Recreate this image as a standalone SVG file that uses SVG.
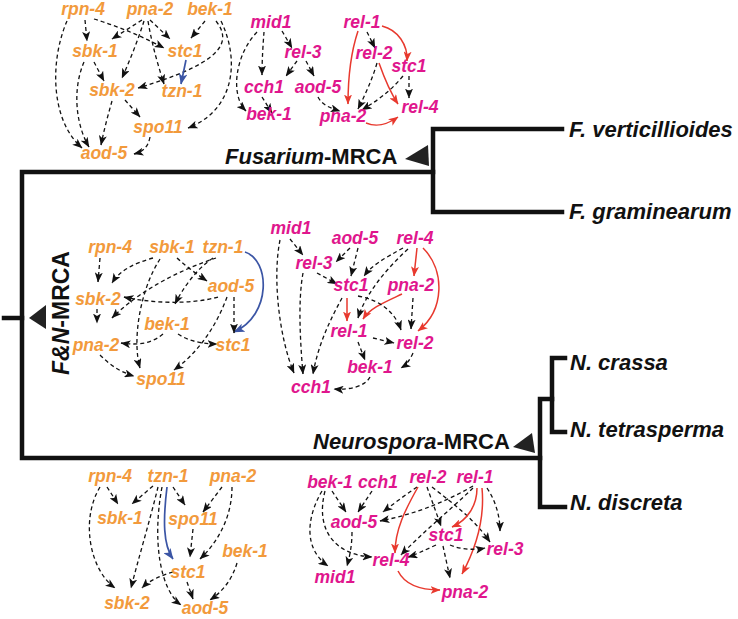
<svg xmlns="http://www.w3.org/2000/svg" width="738" height="619" viewBox="0 0 738 619">
<style>
.t{font-family:"Liberation Sans",Arial,sans-serif;font-weight:bold;font-style:italic;font-size:17.5px;text-anchor:middle}
.o{fill:#F29A3C}
.p{fill:#E0168D}
.lab{font-family:"Liberation Sans",Arial,sans-serif;font-weight:bold;font-size:22px;fill:#111}
.it{font-style:italic}
.tree{fill:none;stroke:#111;stroke-width:4.5;stroke-linejoin:miter;stroke-linecap:square}
.k{fill:none;stroke:#111;stroke-width:1.3;stroke-dasharray:4 3;marker-end:url(#ak)}
.r{fill:none;stroke:#E8392E;stroke-width:1.5;marker-end:url(#ar)}
.b{fill:none;stroke:#3B55A5;stroke-width:1.7;marker-end:url(#ab)}
</style>
<defs>
<marker id="ak" viewBox="0 0 10 8" refX="9.5" refY="4" markerWidth="10" markerHeight="8" markerUnits="userSpaceOnUse" orient="auto"><path d="M0,0 L10,4 L0,8 L2.5,4 z" fill="#111"/></marker>
<marker id="ar" viewBox="0 0 10 8" refX="9.5" refY="4" markerWidth="10" markerHeight="8" markerUnits="userSpaceOnUse" orient="auto"><path d="M0,0 L10,4 L0,8 L2.5,4 z" fill="#E8392E"/></marker>
<marker id="ab" viewBox="0 0 10 8" refX="9.5" refY="4" markerWidth="11" markerHeight="9" markerUnits="userSpaceOnUse" orient="auto"><path d="M0,0 L10,4 L0,8 L2.5,4 z" fill="#3B55A5"/></marker>
</defs>

<g id="tree">
<path class="tree" d="M4,318 H22"/>
<path class="tree" d="M540,458 H22 V172 H433"/>
<path class="tree" d="M562,129 H433 V212 H562"/>
<path class="tree" d="M565,358 H552 V432 H565"/>
<path class="tree" d="M552,399 H540 V507 H565"/>
<polygon points="428,145 405,159 429,166" fill="#222"/>
<polygon points="46,305 29,318 46,329" fill="#222"/>
<polygon points="532,433 513,447 535,453" fill="#222"/>
</g>

<g id="tree-labels">
<text class="lab" x="225" y="164"><tspan class="it">Fusarium</tspan>-MRCA</text>
<text class="lab" x="313" y="449"><tspan class="it">Neurospora</tspan>-MRCA</text>
<text class="lab" transform="translate(69,313) rotate(-90)" text-anchor="middle" style="font-size:23px"><tspan class="it">F&amp;N</tspan>-MRCA</text>
<text class="lab it" x="569" y="137">F. verticillioides</text>
<text class="lab it" x="569" y="219">F. graminearum</text>
<text class="lab it" x="570" y="370">N. crassa</text>
<text class="lab it" x="570" y="437">N. tetrasperma</text>
<text class="lab it" x="570" y="510">N. discreta</text>
</g>

<g id="connectors">
<!-- top orange -->
<path class="k" d="M85,20 L87,41"/>
<path class="k" d="M94,19 Q130,30 164,48"/>
<path class="k" d="M67,21 C50,60 50,120 82,148"/>
<path class="k" d="M94,62 L104,81"/>
<path class="k" d="M84,62 C72,90 76,125 89,147"/>
<path class="k" d="M142,20 L112,39"/>
<path class="k" d="M150,20 L170,39"/>
<path class="k" d="M144,21 C138,40 130,60 122,78"/>
<path class="k" d="M148,21 C152,45 158,65 164,84"/>
<path class="k" d="M205,21 L191,38"/>
<path class="k" d="M216,21 C235,45 215,65 138,88"/>
<path class="k" d="M221,21 C240,60 235,110 188,128"/>
<path class="b" d="M186,60 L181,84"/>
<path class="k" d="M125,100 L140,117"/>
<path class="k" d="M112,101 C108,115 104,130 101,145"/>
<path class="k" d="M150,137 C148,148 142,152 134,154"/>
<!-- top pink -->
<path class="k" d="M282,31 L292,48"/>
<path class="k" d="M264,32 C263,45 262,60 262,75"/>
<path class="k" d="M257,32 C235,55 230,95 246,111"/>
<path class="k" d="M297,61 L286,76"/>
<path class="k" d="M306,61 L314,76"/>
<path class="k" d="M262,97 L272,113"/>
<path class="k" d="M318,97 C322,105 330,108 340,111"/>
<path class="k" d="M367,32 L375,48"/>
<path class="r" d="M358,31 C350,55 348,80 348,104"/>
<path class="r" d="M382,26 C398,30 408,45 407,61"/>
<path class="k" d="M377,63 C372,80 365,95 358,109"/>
<path class="r" d="M379,63 C385,80 390,92 398,104"/>
<path class="k" d="M403,76 C390,92 375,102 362,110"/>
<path class="k" d="M409,76 L409,98"/>
<path class="r" d="M366,123 C378,128 388,124 398,117"/>
<!-- middle orange -->
<path class="k" d="M100,258 L98,282"/>
<path class="k" d="M153,258 C135,263 120,270 112,283"/>
<path class="k" d="M177,258 C188,268 198,275 207,281"/>
<path class="k" d="M160,259 C140,290 132,340 140,368"/>
<path class="k" d="M216,258 C180,270 140,290 112,318"/>
<path class="k" d="M213,258 C195,270 182,290 175,304"/>
<path class="b" d="M245,252 C270,260 272,315 234,332"/>
<path class="k" d="M218,297 C190,305 150,303 124,297"/>
<path class="k" d="M234,297 L234,333"/>
<path class="k" d="M227,297 C215,330 195,355 174,370"/>
<path class="k" d="M97,309 L97,323"/>
<path class="k" d="M163,334 C150,345 135,345 121,343"/>
<path class="k" d="M178,334 C190,342 205,344 217,344"/>
<path class="k" d="M100,355 C110,365 120,372 134,376"/>
<!-- middle pink -->
<path class="k" d="M290,239 L303,255"/>
<path class="k" d="M280,240 C272,280 280,340 294,373"/>
<path class="k" d="M303,273 C298,300 300,340 303,374"/>
<path class="k" d="M317,273 L337,284"/>
<path class="k" d="M350,248 L336,262"/>
<path class="k" d="M358,248 L351,276"/>
<path class="k" d="M403,248 C385,258 372,265 364,276"/>
<path class="k" d="M408,249 C385,270 365,295 358,318"/>
<path class="r" d="M417,248 L414,276"/>
<path class="r" d="M423,248 C445,270 445,310 418,331"/>
<path class="r" d="M402,294 C385,302 370,308 363,319"/>
<path class="k" d="M413,298 L411,329"/>
<path class="r" d="M347,298 L347,321"/>
<path class="k" d="M358,296 C380,300 395,312 401,330"/>
<path class="k" d="M342,298 C330,320 318,345 313,374"/>
<path class="k" d="M373,338 L394,343"/>
<path class="k" d="M358,342 L365,360"/>
<path class="k" d="M413,353 C410,360 406,365 401,368"/>
<path class="k" d="M370,377 C365,387 348,390 334,389"/>
<!-- bottom orange -->
<path class="k" d="M107,487 L118,504"/>
<path class="k" d="M100,487 C80,520 90,570 115,588"/>
<path class="k" d="M153,486 L132,504"/>
<path class="k" d="M158,487 C150,520 138,560 131,588"/>
<path class="k" d="M162,487 C152,540 160,590 181,605"/>
<path class="k" d="M173,487 L185,505"/>
<path class="b" d="M167,487 C163,520 163,545 173,559"/>
<path class="k" d="M222,487 L203,512"/>
<path class="k" d="M232,487 C232,520 215,545 200,559"/>
<path class="k" d="M193,529 L190,557"/>
<path class="k" d="M237,563 C232,580 222,592 210,600"/>
<path class="k" d="M173,572 C160,576 150,580 142,588"/>
<path class="k" d="M187,582 L193,599"/>
<!-- bottom pink -->
<path class="k" d="M332,491 L346,512"/>
<path class="k" d="M322,491 C305,520 305,550 328,566"/>
<path class="k" d="M325,491 C315,530 335,555 372,557"/>
<path class="k" d="M372,491 L358,512"/>
<path class="k" d="M352,532 C352,545 350,555 347,566"/>
<path class="k" d="M417,487 C405,495 392,505 383,512"/>
<path class="r" d="M418,487 C405,510 395,530 395,553"/>
<path class="k" d="M427,487 L441,526"/>
<path class="k" d="M432,487 C455,505 475,520 490,542"/>
<path class="k" d="M473,486 C440,505 410,515 380,521"/>
<path class="k" d="M473,488 C450,510 420,535 401,555"/>
<path class="r" d="M477,488 C477,505 468,520 452,527"/>
<path class="r" d="M482,488 C485,520 475,550 462,574"/>
<path class="k" d="M487,488 C495,500 500,515 500,531"/>
<path class="k" d="M436,545 C425,550 415,555 408,557"/>
<path class="k" d="M450,545 C462,550 475,550 485,548"/>
<path class="k" d="M443,546 L450,578"/>
<path class="r" d="M398,571 C405,585 420,590 440,590"/>
</g>

<g id="net-fusarium-orange" class="t o">
<text id="fo-rpn4" x="83" y="15">rpn-4</text>
<text id="fo-pna2" x="150" y="15">pna-2</text>
<text id="fo-bek1" x="210" y="15">bek-1</text>
<text id="fo-sbk1" x="95" y="57">sbk-1</text>
<text id="fo-stc1" x="185" y="57">stc1</text>
<text id="fo-sbk2" x="112" y="96">sbk-2</text>
<text id="fo-tzn1" x="182" y="97">tzn-1</text>
<text id="fo-spo11" x="158" y="133">spo11</text>
<text id="fo-aod5" x="104" y="159">aod-5</text>
</g>
<g id="net-fusarium-pink" class="t p">
<text id="fp-mid1" x="271" y="28">mid1</text>
<text id="fp-rel1" x="362" y="28">rel-1</text>
<text id="fp-rel3" x="303" y="58">rel-3</text>
<text id="fp-rel2" x="374" y="59">rel-2</text>
<text id="fp-stc1" x="409" y="72">stc1</text>
<text id="fp-cch1" x="264" y="93">cch1</text>
<text id="fp-aod5" x="318" y="93">aod-5</text>
<text id="fp-bek1" x="269" y="120">bek-1</text>
<text id="fp-pna2" x="343" y="122">pna-2</text>
<text id="fp-rel4" x="420" y="113">rel-4</text>
</g>
<g id="net-fn-orange" class="t o">
<text id="mo-rpn4" x="110" y="253">rpn-4</text>
<text id="mo-sbk1" x="172" y="253">sbk-1</text>
<text id="mo-tzn1" x="223" y="253">tzn-1</text>
<text id="mo-aod5" x="231" y="292">aod-5</text>
<text id="mo-sbk2" x="98" y="305">sbk-2</text>
<text id="mo-bek1" x="167" y="330">bek-1</text>
<text id="mo-pna2" x="96" y="351">pna-2</text>
<text id="mo-stc1" x="233" y="351">stc1</text>
<text id="mo-spo11" x="161" y="385">spo11</text>
</g>
<g id="net-fn-pink" class="t p">
<text id="mp-mid1" x="291" y="234">mid1</text>
<text id="mp-aod5" x="355" y="244">aod-5</text>
<text id="mp-rel4" x="415" y="244">rel-4</text>
<text id="mp-rel3" x="314" y="269">rel-3</text>
<text id="mp-stc1" x="351" y="291">stc1</text>
<text id="mp-pna2" x="411" y="291">pna-2</text>
<text id="mp-rel1" x="349" y="337">rel-1</text>
<text id="mp-rel2" x="415" y="349">rel-2</text>
<text id="mp-bek1" x="370" y="373">bek-1</text>
<text id="mp-cch1" x="311" y="393">cch1</text>
</g>
<g id="net-neuro-orange" class="t o">
<text id="no-rpn4" x="110" y="482">rpn-4</text>
<text id="no-tzn1" x="168" y="482">tzn-1</text>
<text id="no-pna2" x="233" y="482">pna-2</text>
<text id="no-sbk1" x="120" y="524">sbk-1</text>
<text id="no-spo11" x="193" y="525">spo11</text>
<text id="no-bek1" x="245" y="557">bek-1</text>
<text id="no-stc1" x="188" y="578">stc1</text>
<text id="no-sbk2" x="127" y="609">sbk-2</text>
<text id="no-aod5" x="205" y="614">aod-5</text>
</g>
<g id="net-neuro-pink" class="t p">
<text id="np-bek1" x="330" y="488">bek-1</text>
<text id="np-cch1" x="378" y="488">cch1</text>
<text id="np-rel2" x="428" y="483">rel-2</text>
<text id="np-rel1" x="475" y="483">rel-1</text>
<text id="np-aod5" x="354" y="528">aod-5</text>
<text id="np-stc1" x="446" y="541">stc1</text>
<text id="np-rel3" x="505" y="555">rel-3</text>
<text id="np-rel4" x="391" y="566">rel-4</text>
<text id="np-mid1" x="335" y="583">mid1</text>
<text id="np-pna2" x="465" y="598">pna-2</text>
</g>
</svg>
